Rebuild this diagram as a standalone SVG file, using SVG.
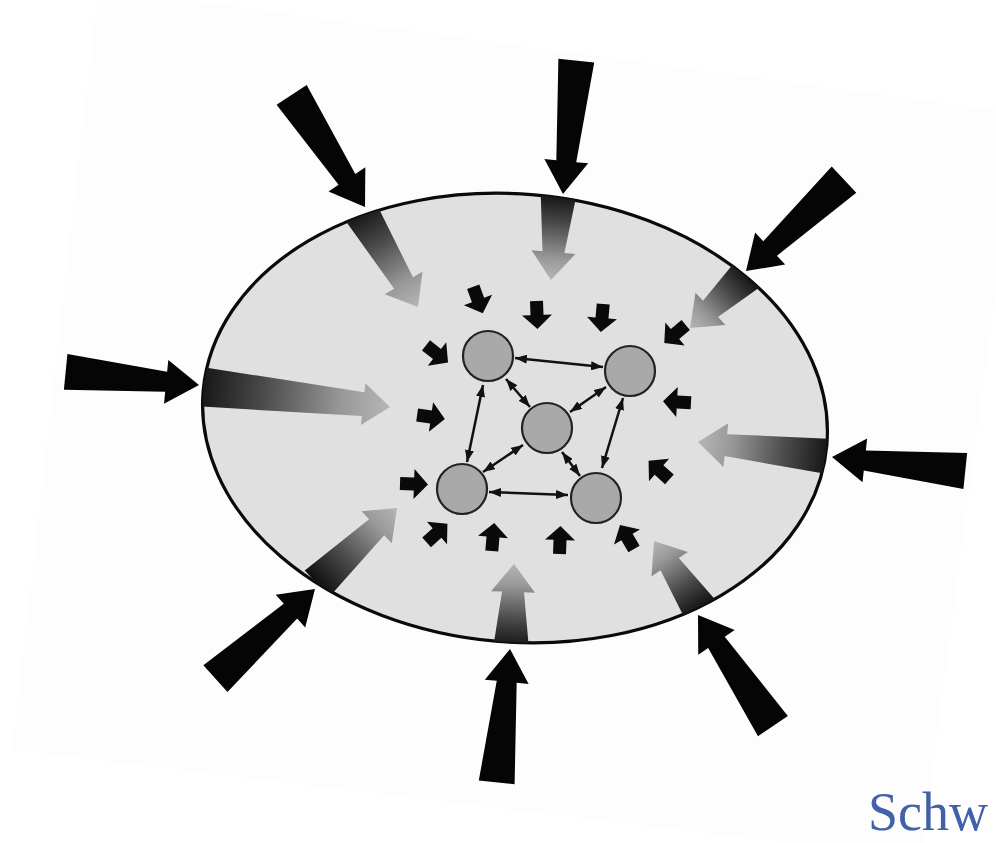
<svg xmlns="http://www.w3.org/2000/svg" width="996" height="843" viewBox="0 0 996 843">
  <style>
    .big { fill: #050505; }
    .small { fill: #0a0a0a; }
    .grad { fill: url(#gr); }
    .node { fill: #a9a9a9; stroke: #222; stroke-width: 2.2; }
    .link { stroke: #111; stroke-width: 2.5; fill: none; marker-start: url(#ah); marker-end: url(#ah); }
    .label { font-family: "Liberation Serif", "DejaVu Serif", serif; font-size: 54px; fill: #4361a6; }
  </style>
  <defs>
    <linearGradient id="gr" x1="0" y1="0" x2="1" y2="0">
      <stop offset="0" stop-color="#101010"/>
      <stop offset="0.35" stop-color="#4a4a4a"/>
      <stop offset="0.75" stop-color="#989898"/>
      <stop offset="1" stop-color="#b6b6b6"/>
    </linearGradient>
    <marker id="ah" viewBox="0 0 12 9" refX="12" refY="4.5" markerWidth="12" markerHeight="9" markerUnits="userSpaceOnUse" orient="auto-start-reverse">
      <path d="M0,0 L12,4.5 L0,9 Z" fill="#111"/>
    </marker>
    <path id="bigArrow" d="M0,0 L-33,-22 L-33,-10 L-134,-18 L-134,18 L-33,10 L-33,22 Z"/>
    <path id="smallArrow" d="M14,0 L0,-15 L0,-6.5 L-14,-6.5 L-14,6.5 L0,6.5 L0,15 Z"/>
    <clipPath id="clipE">
      <ellipse cx="515" cy="418" rx="313" ry="224" transform="rotate(5 515 418)"/>
    </clipPath>
  </defs>

  <rect width="996" height="843" fill="#ffffff"/>
  <polygon points="98,-12 1019,113 921,859 12,750" fill="#fdfdfd"/>

  <g id="cell">
    <ellipse cx="515" cy="418" rx="313" ry="224" transform="rotate(5 515 418)" fill="#e0e0e0" stroke="#0a0a0a" stroke-width="3.2"/>
  </g>

  <g id="inner-gradient-arrows" clip-path="url(#clipE)">
    <path class="grad" transform="translate(418,307) rotate(59)" d="M0,0 L-28,-22 L-28,-11 L-115,-18 L-115,18 L-28,11 L-28,22 Z"/>
    <path class="grad" transform="translate(551,280) rotate(95)" d="M0,0 L-28,-22 L-28,-11 L-87,-18 L-87,18 L-28,11 L-28,22 Z"/>
    <path class="grad" transform="translate(690,328) rotate(137)" d="M0,0 L-28,-22 L-28,-11 L-80,-18 L-80,18 L-28,11 L-28,22 Z"/>
    <path class="grad" transform="translate(698,442) rotate(186.3)" d="M0,0 L-28,-22 L-28,-11 L-135,-18 L-135,18 L-28,11 L-28,22 Z"/>
    <path class="grad" transform="translate(654,541) rotate(236)" d="M0,0 L-28,-22 L-28,-11 L-83,-18 L-83,18 L-28,11 L-28,22 Z"/>
    <path class="grad" transform="translate(514,564) rotate(272)" d="M0,0 L-28,-22 L-28,-11 L-85,-18 L-85,18 L-28,11 L-28,22 Z"/>
    <path class="grad" transform="translate(397,508) rotate(-43.4)" d="M0,0 L-28,-22 L-28,-11 L-110,-18 L-110,18 L-28,11 L-28,22 Z"/>
    <path class="grad" transform="translate(390,407) rotate(6.1)" d="M0,0 L-27,-21 L-27,-12 L-197,-20 L-197,20 L-27,12 L-27,21 Z"/>
  </g>

  <g id="outer-arrows">
    <use href="#bigArrow" class="big" transform="translate(365,207) rotate(56.8)"/>
    <use href="#bigArrow" class="big" transform="translate(563,194) rotate(95.7)"/>
    <use href="#bigArrow" class="big" transform="translate(746,271) rotate(137)"/>
    <use href="#bigArrow" class="big" transform="translate(832,457) rotate(186)"/>
    <use href="#bigArrow" class="big" transform="translate(698,615) rotate(236)"/>
    <use href="#bigArrow" class="big" transform="translate(510,649) rotate(275.7)"/>
    <use href="#bigArrow" class="big" transform="translate(315,589) rotate(318)"/>
    <use href="#bigArrow" class="big" transform="translate(199,385) rotate(5.6)"/>
  </g>

  <g id="small-arrows">
    <use href="#smallArrow" class="small" transform="translate(478,300) rotate(70)"/>
    <use href="#smallArrow" class="small" transform="translate(537,315) rotate(88)"/>
    <use href="#smallArrow" class="small" transform="translate(602,318) rotate(95)"/>
    <use href="#smallArrow" class="small" transform="translate(675,334) rotate(140)"/>
    <use href="#smallArrow" class="small" transform="translate(677,402) rotate(183)"/>
    <use href="#smallArrow" class="small" transform="translate(659,470) rotate(222)"/>
    <use href="#smallArrow" class="small" transform="translate(627,537) rotate(240)"/>
    <use href="#smallArrow" class="small" transform="translate(560,540) rotate(272)"/>
    <use href="#smallArrow" class="small" transform="translate(493,537) rotate(275)"/>
    <use href="#smallArrow" class="small" transform="translate(437,533) rotate(318)"/>
    <use href="#smallArrow" class="small" transform="translate(414,484) rotate(2)"/>
    <use href="#smallArrow" class="small" transform="translate(431,417) rotate(8)"/>
    <use href="#smallArrow" class="small" transform="translate(437,354) rotate(38)"/>
  </g>

  <g id="connectors">
    <line class="link" x1="515" y1="358" x2="603" y2="367"/>
    <line class="link" x1="506" y1="379" x2="530" y2="407"/>
    <line class="link" x1="606" y1="387" x2="570" y2="412"/>
    <line class="link" x1="483" y1="385" x2="467" y2="462"/>
    <line class="link" x1="623" y1="398" x2="602" y2="468"/>
    <line class="link" x1="523" y1="445" x2="483" y2="472"/>
    <line class="link" x1="562" y1="452" x2="580" y2="476"/>
    <line class="link" x1="489" y1="492" x2="568" y2="495"/>
  </g>

  <g id="n1"><circle class="node" cx="488" cy="356" r="25"/></g>
  <g id="n2"><circle class="node" cx="630" cy="371" r="25"/></g>
  <g id="n3"><circle class="node" cx="547" cy="428" r="25"/></g>
  <g id="n4"><circle class="node" cx="462" cy="489" r="25"/></g>
  <g id="n5"><circle class="node" cx="596" cy="498" r="25"/></g>

  <text class="label" x="868" y="830">Schw</text>
</svg>
